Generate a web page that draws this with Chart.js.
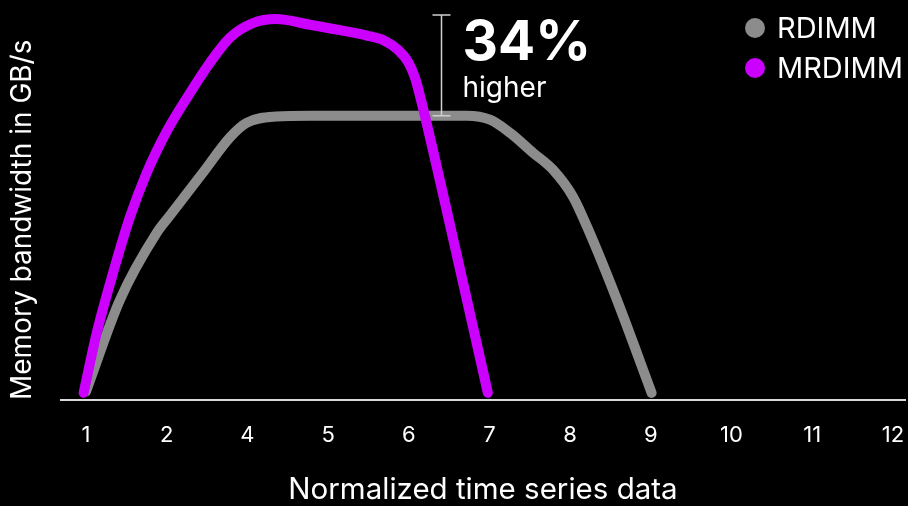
<!DOCTYPE html>
<html>
<head>
<meta charset="utf-8">
<script src="https://cdn.jsdelivr.net/npm/chart.js@4.4.1/dist/chart.umd.min.js"></script>
<style>
  html, body { margin: 0; padding: 0; background: #000; }
  #wrap { width: 908px; height: 506px; position: relative; }
</style>
</head>
<body>
<div id="wrap"><canvas id="bw"></canvas></div>
<script>
// Tick labels along the time axis (one per evenly spaced slot)
const tickLabels = ['1', '2', '4', '5', '6', '7', '8', '9', '10', '11', '12'];

// RDIMM bandwidth trace (x = slot position, y = bandwidth)
const rdimmX = [1.0, 1.42, 1.876, 2.04, 2.45, 2.784, 2.99, 3.36, 3.78, 4.5, 5.2, 5.72, 6.006, 6.254, 6.539, 6.787, 7.035, 7.21, 7.58, 8.01];
const rdimmY = [3, 35.2, 58.8, 64.9, 80.0, 92.4, 97.5, 99.7, 100, 100, 100, 100, 98.6, 94.0, 87.0, 81.0, 71.5, 60.9, 35.2, 2.5];

// MRDIMM bandwidth trace
const mrdimmX = [0.97, 1.133, 1.335, 1.545, 1.752, 2.0, 2.248, 2.537, 2.784, 3.069, 3.355, 3.776, 4.147, 4.482, 4.705, 4.866, 4.99, 5.077, 5.151, 5.51, 5.98];
const mrdimmY = [2.5, 23.6, 44.7, 64.4, 79.9, 94.5, 106.2, 118.7, 127.5, 132.6, 134.0, 132.0, 130.1, 128.2, 126.3, 123.2, 119.0, 113.4, 105.6, 61.7, 2.5];

const seriesNames = ['RDIMM', 'MRDIMM'];
const seriesColors = ['#8c8c8c', '#cc00ff'];

// Slot where the gain bracket sits
const bracketSlot = [5.40];

const FONT = 'Inter, "Noto Sans", "DejaVu Sans", sans-serif';
const toPoints = (xs, ys) => xs.map((x, i) => ({ x: x, y: ys[i] }));

// Gain bracket with "xx% higher" label between the two peaks
const gainPlugin = {
  id: 'gainBracket',
  afterDatasetsDraw(chart) {
    const { ctx, scales: { x, y } } = chart;
    const base = Math.max(...rdimmY);
    const peak = Math.max(...mrdimmY);
    const gain = Math.round((peak / base - 1) * 100);
    const px = Math.round(x.getPixelForValue(bracketSlot[0])) + 0.5;
    const yTop = y.getPixelForValue(peak) - 4;
    const yBot = y.getPixelForValue(base);
    ctx.save();
    ctx.strokeStyle = '#d0d0d0';
    ctx.lineWidth = 1.5;
    ctx.beginPath();
    ctx.moveTo(px, yTop); ctx.lineTo(px, yBot);
    ctx.moveTo(px - 9, yTop); ctx.lineTo(px + 9, yTop);
    ctx.moveTo(px - 9, yBot); ctx.lineTo(px + 9, yBot);
    ctx.stroke();
    ctx.fillStyle = '#ffffff';
    ctx.textAlign = 'left';
    ctx.textBaseline = 'alphabetic';
    ctx.font = '700 55px ' + FONT;
    ctx.fillText(gain + '%', px + 21, 60);
    ctx.font = '400 28px ' + FONT;
    ctx.fillText('higher', px + 21, 97);
    ctx.restore();
  }
};

// Dot legend in the upper right corner
const dotLegend = {
  id: 'dotLegend',
  afterDraw(chart) {
    const { ctx, chartArea } = chart;
    const cx = chartArea.right - 150;
    ctx.save();
    chart.data.datasets.forEach((ds, i) => {
      const cy = 28 + i * 40;
      ctx.fillStyle = ds.borderColor;
      ctx.beginPath();
      ctx.arc(cx, cy, 10, 0, Math.PI * 2);
      ctx.fill();
      ctx.fillStyle = '#ffffff';
      ctx.font = '400 29px ' + FONT;
      ctx.textAlign = 'left';
      ctx.textBaseline = 'middle';
      ctx.fillText(ds.label, cx + 22, cy + 1);
    });
    ctx.restore();
  }
};

const lineStyle = {
  borderWidth: 10,
  pointRadius: 0,
  pointHoverRadius: 0,
  fill: false,
  cubicInterpolationMode: 'monotone',
  borderCapStyle: 'round',
  borderJoinStyle: 'round'
};

new Chart(document.getElementById('bw'), {
  type: 'line',
  data: {
    datasets: [
      Object.assign({ label: seriesNames[0], data: toPoints(rdimmX, rdimmY), borderColor: seriesColors[0], order: 1 }, lineStyle),
      Object.assign({ label: seriesNames[1], data: toPoints(mrdimmX, mrdimmY), borderColor: seriesColors[1], order: 0 }, lineStyle)
    ]
  },
  options: {
    responsive: true,
    maintainAspectRatio: false,
    animation: false,
    layout: { padding: { top: 2, right: 3, left: 0, bottom: 0 } },
    plugins: {
      legend: { display: false },
      tooltip: { enabled: false }
    },
    scales: {
      x: {
        type: 'linear',
        min: 0.69,
        max: 11.15,
        grid: { display: false },
        border: { display: true, color: '#d9d9d9', width: 2 },
        afterBuildTicks(scale) {
          scale.ticks = tickLabels.map((_, i) => ({ value: i + 1 }));
        },
        afterFit(scale) {
          scale.height = 106;
          scale.paddingLeft = 0;
          scale.paddingRight = 0;
        },
        ticks: {
          autoSkip: false,
          maxRotation: 0,
          padding: 14,
          color: '#ffffff',
          font: { family: FONT, size: 22 },
          callback: (value, index) => tickLabels[index]
        },
        title: {
          display: true,
          text: 'Normalized time series data',
          color: '#ffffff',
          font: { family: FONT, size: 29.5, lineHeight: 1.06 },
          padding: { top: 0, bottom: 0 }
        }
      },
      y: {
        min: 0,
        max: 140,
        grid: { display: false },
        border: { display: false },
        ticks: { display: false },
        afterFit(scale) {
          scale.width = 61;
          scale.paddingTop = 0;
          scale.paddingBottom = 0;
        },
        title: {
          display: true,
          align: 'start',
          text: 'Memory bandwidth in GB/s',
          color: '#ffffff',
          font: { family: FONT, size: 28, lineHeight: 1.2 },
          padding: { top: 6, bottom: 0 }
        }
      }
    }
  },
  plugins: [gainPlugin, dotLegend]
});
</script>
</body>
</html>
